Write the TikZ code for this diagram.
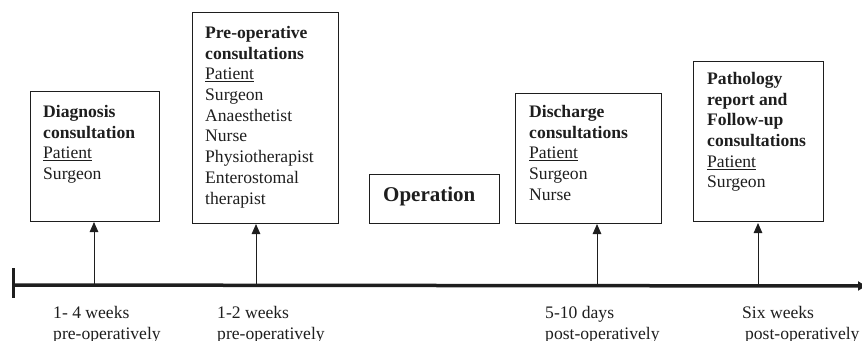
\documentclass[tikz,border=0pt]{standalone}
\usepackage{fontspec}
\setmainfont{Liberation Serif}
\usetikzlibrary{arrows.meta}
\definecolor{ink}{HTML}{1E1E1E}
\tikzset{
  box/.style={draw=ink, line width=1pt, rectangle, inner sep=0pt, anchor=north west},
  txt/.style={text=ink, inner sep=0pt, anchor=north west, align=left,
    font=\fontsize{17.6}{20.7}\selectfont},
  lbl/.style={txt},
  up/.style={draw=ink, line width=1pt, -{Triangle[length=10pt,width=8.5pt]}},
  axis/.style={draw=ink, line width=3.5pt}
}
\begin{document}
\begin{tikzpicture}[x=1pt,y=-1pt]
\useasboundingbox (0,0) rectangle (862,340);
% boxes
\node[box, minimum width=129pt, minimum height=130pt] (diag) at (30,91) {};
\node[box, minimum width=146pt, minimum height=211pt] (preop) at (192,12) {};
\node[box, minimum width=130pt, minimum height=49pt] (oper) at (369,174) {};
\node[box, minimum width=146pt, minimum height=130pt] (disch) at (515,93) {};
\node[box, minimum width=130pt, minimum height=160pt] (path) at (693,61) {};
% box texts
\node[txt] (diagt) at (43,105) {\textbf{Diagnosis}\\\textbf{consultation}\\\underline{Patient}\\Surgeon};
\node[txt] (preopt) at (205,26) {\textbf{Pre-operative}\\\textbf{consultations}\\\underline{Patient}\\Surgeon\\Anaesthetist\\Nurse\\Physiotherapist\\Enterostomal\\therapist};
\node[txt, font=\fontsize{21}{24}\selectfont\bfseries] (opert) at (383,187) {Operation};
\node[txt] (discht) at (529,105) {\textbf{Discharge}\\\textbf{consultations}\\\underline{Patient}\\Surgeon\\Nurse};
\node[txt] (patht) at (707,72) {\textbf{Pathology}\\\textbf{report and}\\\textbf{Follow-up}\\\textbf{consultations}\\\underline{Patient}\\Surgeon};
% timeline
\coordinate (tl0) at (13,285);
\coordinate (tlend) at (866,286);
\coordinate (tkA) at (13,268);
\coordinate (tkB) at (13,298);
\draw[axis, -{Triangle[length=8pt,width=9pt]}] (tl0) -- (tlend);
\draw[draw=ink, line width=3pt] (tkA) -- (tkB);
\coordinate (t1) at (94,285);
\coordinate (t2) at (256,285);
\coordinate (t3) at (597,286);
\coordinate (t4) at (758,286);
\draw[up] (t1) -- (diag.south -| t1);
\draw[up] (t2) -- (preop.south -| t2);
\draw[up] (t3) -- (disch.south -| t3);
\draw[up] (t4) -- ([yshift=-1pt]path.south -| t4);
% labels
\node[lbl] (l1) at (53,306) {1- 4 weeks\\pre-operatively};
\node[lbl] (l2) at (217,306) {1-2 weeks\\pre-operatively};
\node[lbl] (l3) at (545,306) {5-10 days\\post-operatively};
\node[lbl] (l4) at (742,306) {Six weeks\\\,post-operatively};
\end{tikzpicture}
\end{document}
